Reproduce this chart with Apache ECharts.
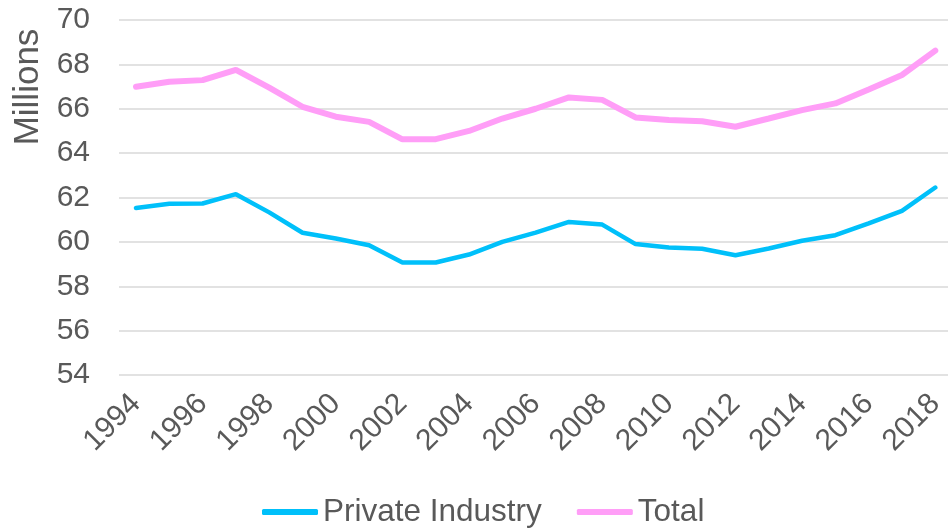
<!DOCTYPE html>
<html>
<head>
<meta charset="utf-8">
<title>Employment</title>
<script src="https://cdn.jsdelivr.net/npm/echarts@6/dist/echarts.min.js"></script>
<style>
  html, body { margin: 0; padding: 0; background: #fff; }
  #chart { width: 948px; height: 530px; }
</style>
</head>
<body>
<div id="chart"></div>
<script>
// 年份
var years = ['1994', '1995', '1996', '1997', '1998', '1999', '2000', '2001', '2002', '2003',
             '2004', '2005', '2006', '2007', '2008', '2009', '2010', '2011', '2012', '2013',
             '2014', '2015', '2016', '2017', '2018'];
// 私营部门 (百万)
var privateIndustry = [61.53, 61.72, 61.73, 62.15, 61.33, 60.41, 60.15, 59.85, 59.07, 59.07,
                       59.43, 60.0, 60.42, 60.9, 60.78, 59.9, 59.75, 59.69, 59.4, 59.7,
                       60.05, 60.3, 60.83, 61.4, 62.45];
// 合计 (百万)
var total = [66.99, 67.22, 67.29, 67.75, 66.95, 66.09, 65.64, 65.41, 64.62, 64.63,
             65.0, 65.56, 66.0, 66.51, 66.4, 65.61, 65.49, 65.44, 65.19, 65.56,
             65.94, 66.24, 66.87, 67.52, 68.62];

var textColor = '#595959';
var fontFamily = 'Liberation Sans, Arial, sans-serif';
var cyan = '#00C0FA';
var pink = '#FF9EF7';

var chart = echarts.init(document.getElementById('chart'));

var option = {
    animation: false,
    textStyle: { fontFamily: fontFamily },
    // grid 0: 网格线和y轴刻度, grid 1: 折线
    grid: [
        { left: 119, right: 0, top: 20, bottom: 155 },
        { left: 136, right: 8, top: 20, bottom: 155 }
    ],
    legend: {
        bottom: -3,
        left: 257,
        itemWidth: 56,
        itemHeight: 6,
        itemGap: 35,
        icon: 'roundRect',
        textStyle: { color: textColor, fontSize: 31.5, fontFamily: fontFamily },
        data: [
            { name: 'Private Industry', itemStyle: { color: cyan } },
            { name: 'Total', itemStyle: { color: pink } }
        ]
    },
    xAxis: [{
        gridIndex: 0,
        type: 'value',
        show: false
    }, {
        gridIndex: 1,
        type: 'category',
        data: years,
        boundaryGap: false,
        axisLine: { show: false },
        axisTick: { show: false },
        axisLabel: {
            interval: 1,
            rotate: 45,
            margin: 24,
            color: textColor,
            fontSize: 30,
            fontFamily: fontFamily
        }
    }],
    yAxis: [{
        gridIndex: 0,
        type: 'value',
        min: 54,
        max: 70,
        interval: 2,
        axisLine: { show: false },
        axisTick: { show: false },
        axisLabel: {
            margin: 29,
            color: textColor,
            fontSize: 30,
            fontFamily: fontFamily
        },
        splitLine: { lineStyle: { color: '#d9d9d9', width: 1.5 } }
    }, {
        gridIndex: 1,
        type: 'value',
        min: 54,
        max: 70,
        interval: 2,
        show: false
    }],
    graphic: [{
        type: 'text',
        x: 28,
        y: 87,
        rotation: Math.PI / 2,
        style: {
            text: 'Millions',
            fill: textColor,
            fontSize: 35,
            fontFamily: fontFamily,
            align: 'center',
            verticalAlign: 'middle'
        }
    }],
    series: [{
        name: 'Private Industry',
        type: 'line',
        xAxisIndex: 1,
        yAxisIndex: 1,
        data: privateIndustry,
        symbol: 'none',
        lineStyle: { color: cyan, width: 4.5, cap: 'round' },
        itemStyle: { color: cyan }
    }, {
        name: 'Total',
        type: 'line',
        xAxisIndex: 1,
        yAxisIndex: 1,
        data: total,
        symbol: 'none',
        lineStyle: { color: pink, width: 6, cap: 'round' },
        itemStyle: { color: pink }
    }]
};

chart.setOption(option);
</script>
</body>
</html>
